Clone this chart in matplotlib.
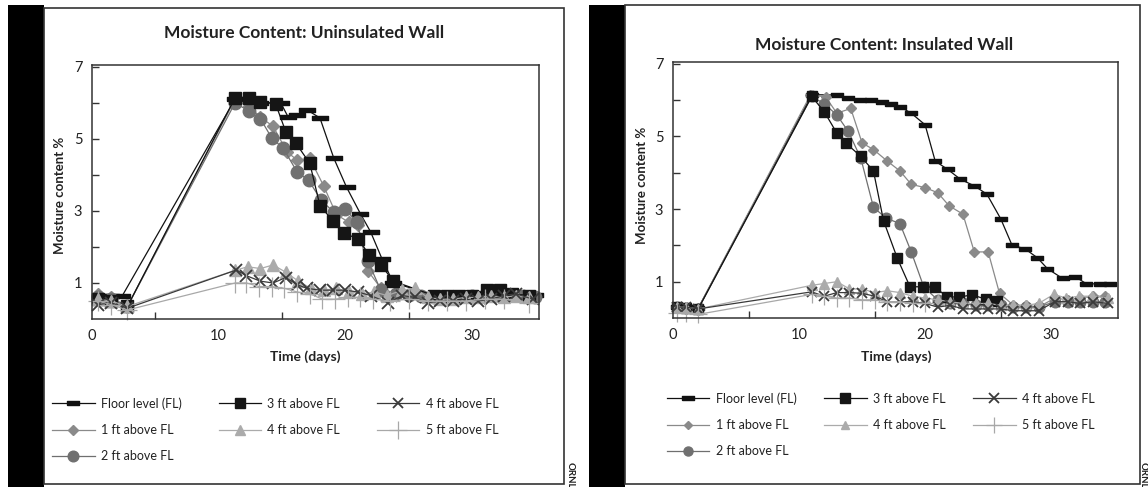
import matplotlib
matplotlib.use("Agg")
import matplotlib.pyplot as plt
from matplotlib.patches import Rectangle

plt.rcParams['font.family'] = ['Lato', 'DejaVu Sans']

# ---------------- data: uninsulated wall ----------------
U_FL_X = [0.6, 1.5, 2.4, 11.3, 12.4, 13.3, 14.9, 15.5, 16.2, 17.0, 18.0, 19.1, 20.1, 21.2, 22.0, 22.9, 23.8,
          27.0, 28.0, 29.0, 30.0, 31.0, 32.0, 33.0, 34.0, 35.0]
U_FL_Y = [0.65, 0.65, 0.65, 6.1, 6.1, 6.0, 6.0, 5.6, 5.65, 5.8, 5.58, 4.46, 3.66, 2.92, 2.42, 1.67, 1.0,
          0.68, 0.68, 0.68, 0.68, 0.72, 0.78, 0.75, 0.68, 0.68]
U_1FT_X = [0.5, 1.5, 2.8, 11.3, 12.4, 13.3, 14.3, 15.4, 16.2, 17.2, 18.3, 19.3, 20.3, 21.0, 21.8, 22.8,
           24.0, 25.0, 26.0, 27.0, 28.0, 29.0, 30.0, 31.0, 32.0, 33.0, 34.0, 35.0]
U_1FT_Y = [0.7, 0.6, 0.35, 6.1, 5.9, 5.6, 5.35, 4.64, 4.41, 4.46, 3.69, 2.9, 2.68, 2.6, 1.33, 0.86,
           0.7, 0.65, 0.65, 0.62, 0.62, 0.65, 0.65, 0.65, 0.68, 0.7, 0.65, 0.62]
U_2FT_X = [0.5, 1.5, 2.8, 11.3, 12.4, 13.3, 14.2, 15.1, 16.2, 17.1, 18.1, 19.1, 20.0, 20.9, 21.8, 22.8,
           24.0, 25.0, 26.0, 27.0, 28.0, 29.0, 30.0, 31.0, 32.0, 33.0, 34.0, 35.0]
U_2FT_Y = [0.6, 0.55, 0.35, 6.0, 5.77, 5.56, 5.02, 4.74, 4.08, 3.85, 3.3, 2.96, 3.06, 2.68, 1.6, 0.8,
           0.7, 0.68, 0.65, 0.62, 0.62, 0.62, 0.65, 0.65, 0.68, 0.68, 0.65, 0.62]
U_3FT_X = [0.5, 1.5, 2.8, 11.3, 12.4, 13.3, 14.5, 15.3, 16.1, 17.2, 18.0, 19.0, 19.9, 21.0, 21.9, 22.8, 23.8,
           27.0, 28.0, 29.0, 30.0, 31.2, 32.2, 33.2, 34.5]
U_3FT_Y = [0.55, 0.5, 0.35, 6.14, 6.14, 6.03, 5.97, 5.2, 4.88, 4.32, 3.15, 2.73, 2.4, 2.21, 1.79, 1.51, 1.05,
           0.65, 0.65, 0.65, 0.65, 0.8, 0.8, 0.7, 0.65]
U_4FT_TRI_X = [0.5, 1.5, 2.8, 11.3, 12.3, 13.3, 14.3, 15.3, 16.3, 17.3, 18.3, 19.3, 20.3, 21.3, 22.3, 23.3,
               24.5, 25.5, 26.5, 27.5, 28.5, 29.5, 30.5, 31.5, 32.5, 33.5, 34.5]
U_4FT_TRI_Y = [0.55, 0.5, 0.35, 1.35, 1.45, 1.4, 1.5, 1.3, 1.05, 0.85, 0.8, 0.85, 0.75, 0.7, 0.75, 0.65,
               0.8, 0.85, 0.6, 0.55, 0.55, 0.6, 0.6, 0.65, 0.6, 0.65, 0.6]
U_4FT_X_X = [0.5, 1.5, 2.8, 11.4, 12.2, 13.3, 14.3, 15.3, 16.2, 17.0, 18.0, 19.0, 20.0, 21.0, 22.0, 23.4,
             24.5, 25.5, 26.5, 27.5, 28.5, 29.5, 30.5, 31.5, 32.5, 33.5, 34.8]
U_4FT_X_Y = [0.4, 0.45, 0.3, 1.36, 1.2, 1.05, 1.0, 1.15, 0.95, 0.85, 0.8, 0.8, 0.8, 0.75, 0.65, 0.45,
             0.65, 0.6, 0.45, 0.5, 0.5, 0.55, 0.5, 0.55, 0.65, 0.7, 0.55]
U_5FT_X = [0.5, 1.5, 2.8, 11.3, 12.2, 13.2, 14.2, 15.2, 16.2, 17.2, 18.2, 19.2, 20.2, 21.2, 22.2, 23.5,
           25.0, 26.5, 28.0, 29.5, 31.0, 32.5, 34.5]
U_5FT_Y = [0.5, 0.4, 0.25, 1.0, 1.0, 0.9, 0.9, 0.85, 0.75, 0.7, 0.55, 0.55, 0.6, 0.6, 0.55, 0.5,
           0.55, 0.5, 0.5, 0.5, 0.55, 0.55, 0.45]

# ---------------- data: insulated wall ----------------
I_FL_X = [0.3, 1.0, 2.0, 11.0, 13.0, 13.9, 14.8, 15.7, 16.6, 17.3, 18.0, 18.9, 20.0, 20.8, 21.8, 22.8, 23.9,
          24.9, 26.0, 26.9, 27.9, 28.9, 29.7, 30.9, 31.9, 32.8, 33.9, 34.7]
I_FL_Y = [0.3, 0.3, 0.27, 6.15, 6.14, 6.06, 6.0, 6.0, 5.95, 5.9, 5.82, 5.64, 5.32, 4.32, 4.09, 3.82, 3.64,
          3.41, 2.73, 2.0, 1.91, 1.66, 1.36, 1.09, 1.14, 0.94, 0.94, 0.94]
I_1FT_X = [0.3, 1.0, 2.0, 10.9, 12.1, 13.0, 14.1, 15.0, 15.9, 17.0, 18.0, 18.9, 20.0, 21.0, 21.9, 23.0,
           23.9, 25.0, 25.9, 27.0, 28.0, 29.0, 30.3, 31.3, 32.3, 33.3, 34.3]
I_1FT_Y = [0.3, 0.3, 0.27, 6.14, 6.09, 5.64, 5.77, 4.82, 4.64, 4.32, 4.05, 3.68, 3.59, 3.45, 3.09, 2.86,
           1.82, 1.82, 0.68, 0.35, 0.35, 0.3, 0.55, 0.5, 0.55, 0.6, 0.6]
I_2FT_X = [0.3, 1.0, 2.0, 11.0, 12.0, 13.0, 13.9, 14.9, 15.9, 16.9, 18.0, 18.9, 19.9, 21.0, 22.0, 23.0,
           24.0, 25.0, 26.0, 27.0, 28.0, 29.0, 30.3, 31.3, 32.3, 33.3, 34.3]
I_2FT_Y = [0.3, 0.28, 0.25, 6.1, 5.9, 5.59, 5.14, 4.4, 3.05, 2.75, 2.6, 1.82, 0.85, 0.5, 0.4, 0.4,
           0.35, 0.35, 0.35, 0.3, 0.3, 0.3, 0.45, 0.45, 0.45, 0.45, 0.45]
I_3FT_X = [0.3, 1.0, 2.0, 11.0, 12.0, 13.0, 13.7, 14.9, 15.9, 16.7, 17.8, 18.8, 19.8, 20.8, 21.7, 22.7,
           23.7, 24.8, 25.7]
I_3FT_Y = [0.3, 0.28, 0.25, 6.1, 5.68, 5.09, 4.82, 4.45, 4.05, 2.68, 1.64, 0.86, 0.86, 0.85, 0.59, 0.57,
           0.64, 0.52, 0.48]
I_4FT_TRI_X = [0.3, 1.0, 2.0, 11.0, 12.0, 13.0, 14.0, 15.0, 16.0, 17.0, 18.0, 19.0, 20.0, 21.0, 22.0, 23.0,
               24.0, 25.0, 26.0, 27.0, 28.0, 29.0, 30.2, 31.2, 32.2, 33.2, 34.5]
I_4FT_TRI_Y = [0.3, 0.3, 0.25, 0.9, 0.95, 1.0, 0.8, 0.8, 0.7, 0.75, 0.7, 0.6, 0.55, 0.5, 0.45, 0.4,
               0.4, 0.4, 0.35, 0.35, 0.35, 0.4, 0.65, 0.55, 0.6, 0.6, 0.55]
I_4FT_X_X = [0.3, 1.0, 2.0, 11.0, 12.0, 13.0, 14.0, 15.0, 16.0, 17.0, 18.0, 19.0, 20.0, 21.0, 22.0, 23.0,
             24.0, 25.0, 26.0, 27.0, 28.0, 29.0, 30.3, 31.3, 32.3, 33.3, 34.5]
I_4FT_X_Y = [0.3, 0.3, 0.25, 0.72, 0.6, 0.7, 0.7, 0.68, 0.6, 0.45, 0.45, 0.45, 0.4, 0.3, 0.35, 0.25,
             0.25, 0.25, 0.25, 0.2, 0.2, 0.2, 0.45, 0.45, 0.4, 0.45, 0.4]
I_5FT_X = [0.3, 1.0, 2.0, 11.0, 12.0, 13.0, 14.0, 15.0, 16.0, 17.0, 18.0, 19.0, 20.0]
I_5FT_Y = [0.15, 0.15, 0.1, 0.65, 0.6, 0.55, 0.55, 0.5, 0.5, 0.45, 0.45, 0.4, 0.4]

LABELS = ["Floor level (FL)", "1 ft above FL", "2 ft above FL", "3 ft above FL",
          "4 ft above FL", "4 ft above FL", "5 ft above FL"]
TITLES = ["Moisture Content: Uninsulated Wall", "Moisture Content: Insulated Wall"]
X_TICKS = [0, 10, 20, 30]
Y_TICKS = [1, 3, 5, 7]

BAR = [(-1, -0.32), (1, -0.32), (1, 0.32), (-1, 0.32), (-1, -0.32)]

STYLES = [
    dict(color="#111111", marker=BAR, mfc="#111111", mec="#111111", ms=11, lw=0.9),
    dict(color="#8a8a8a", marker="D", mfc="#8a8a8a", mec="#8a8a8a", ms=6, lw=0.9),
    dict(color="#6f6f6f", marker="o", mfc="#707070", mec="#707070", ms=9, lw=0.9),
    dict(color="#111111", marker="s", mfc="#151515", mec="#151515", ms=9, lw=0.9),
    dict(color="#ababab", marker="^", mfc="#ababab", mec="#ababab", ms=8.5, lw=0.9),
    dict(color="#3a3a3a", marker="x", mfc="none", mec="#3a3a3a", ms=9, mew=1.3, lw=0.9),
    dict(color="#a8a8a8", marker="+", mfc="none", mec="#a8a8a8", ms=15, mew=0.9, lw=0.9),
]

W, H = 1148, 487
fig = plt.figure(figsize=(W / 100, H / 100), dpi=100)
fig.patch.set_facecolor("white")


def fx(px):
    return px / W


def fy(py):
    return 1 - py / H


# black side bars and panel borders
for x0 in (8, 589):
    fig.add_artist(Rectangle((fx(x0), 0), fx(36), fy(5), transform=fig.transFigure,
                             facecolor="black", edgecolor="none"))
for x0, x1, ytop in ((44, 564, 8), (625, 1140, 5)):
    fig.add_artist(Rectangle((fx(x0), fy(484)), fx(x1 - x0), fy(ytop) - fy(484), transform=fig.transFigure,
                             facecolor="none", edgecolor="#333333", lw=1.2))


def panel(rect, series, title, title_xy, ylab_xy, xlab_xy, minor_x, msscale, leg_xy, colsp):
    ax = fig.add_axes(rect)
    handles = []
    for (xs, ys), st, lab in zip(series, STYLES, LABELS):
        st = dict(st)
        st["ms"] = st["ms"] * msscale
        ln, = ax.plot(xs, ys, label=lab, clip_on=False, **st)
        handles.append(ln)
    ax.set_xlim(0, 35.3)
    ax.set_ylim(0, 7.05)
    ax.set_xticks(X_TICKS)
    ax.set_yticks(Y_TICKS)
    ax.set_xticks(minor_x, minor=True)
    ax.set_yticks([2, 4, 6], minor=True)
    ax.tick_params(axis="both", which="major", length=0, labelsize=10.5, pad=7, colors="#222222")
    ax.tick_params(axis="both", which="minor", direction="in", length=5, width=1, color="#333333")
    ax.tick_params(axis="y", which="major", direction="in", length=5, width=1, color="#333333")
    for s in ax.spines.values():
        s.set_linewidth(1.1)
        s.set_color("#333333")
    fig.text(fx(title_xy[0]), fy(title_xy[1]), title, ha="center", va="center",
             fontsize=12.5, fontweight="bold", color="#222222")
    fig.text(fx(ylab_xy[0]), fy(ylab_xy[1]), "Moisture content %", ha="center", va="center",
             rotation=90, fontsize=9.5, fontweight="bold", color="#222222")
    fig.text(fx(xlab_xy[0]), fy(xlab_xy[1]), "Time (days)", ha="center", va="center",
             fontsize=10, fontweight="bold", color="#222222")
    leg = fig.legend(handles=handles, labels=LABELS, ncol=3, loc="upper left",
                     bbox_to_anchor=(fx(leg_xy[0]), fy(leg_xy[1])), bbox_transform=fig.transFigure,
                     frameon=False, fontsize=9, handlelength=3.4, handletextpad=0.5,
                     columnspacing=colsp, labelspacing=1.15, borderpad=0, borderaxespad=0,
                     markerscale=0.85)
    for t in leg.get_texts():
        t.set_color("#222222")
    return ax


panel([fx(92), fy(319), fx(539 - 92), fy(65) - fy(319)],
      [(U_FL_X, U_FL_Y), (U_1FT_X, U_1FT_Y), (U_2FT_X, U_2FT_Y), (U_3FT_X, U_3FT_Y),
       (U_4FT_TRI_X, U_4FT_TRI_Y), (U_4FT_X_X, U_4FT_X_Y), (U_5FT_X, U_5FT_Y)],
      TITLES[0], (304, 33), (60, 195), (305, 357), [5, 15, 25], 1.0, (52, 397), 2.95)

panel([fx(673), fy(318), fx(1118 - 673), fy(62) - fy(318)],
      [(I_FL_X, I_FL_Y), (I_1FT_X, I_1FT_Y), (I_2FT_X, I_2FT_Y), (I_3FT_X, I_3FT_Y),
       (I_4FT_TRI_X, I_4FT_TRI_Y), (I_4FT_X_X, I_4FT_X_Y), (I_5FT_X, I_5FT_Y)],
      TITLES[1], (884, 45), (642, 185), (896, 357), [6, 16, 26], 0.85, (667, 392), 2.2)

for xr in (570, 1143):
    fig.text(fx(xr), fy(462), "ORNL", rotation=-90, ha="center", va="top",
             fontsize=7, fontweight="bold", color="#222222")

fig.savefig("out.png", dpi=100, facecolor="white")
